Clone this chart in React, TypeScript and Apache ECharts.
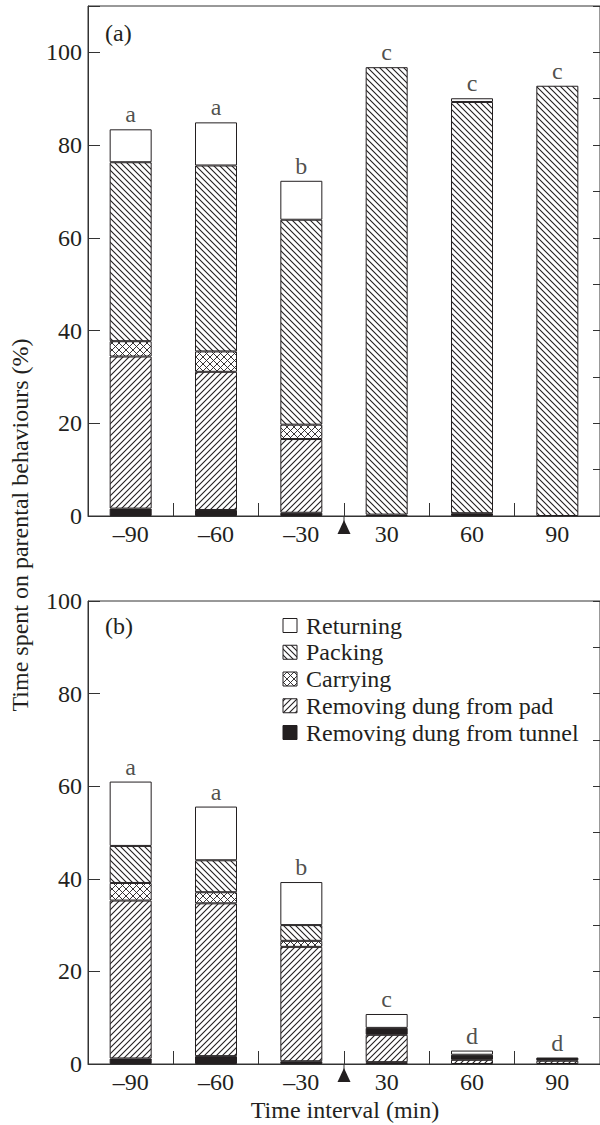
import React, { useEffect, useRef } from "react";
import * as echarts from "echarts";

const categories = ["–90", "–60", "–30", "30", "60", "90"];

// Panel (a)
const tunnelA = [1.6, 1.3, 0.7, 0.3, 0.6, 0];
const padA = [32.8, 29.8, 15.9, 0, 0, 0];
const carryA = [3.3, 4.4, 3.1, 0, 0, 0];
const packA = [38.6, 40.1, 44.2, 96.5, 88.7, 92.8];
const retA = [7.1, 9.3, 8.4, 0, 0.8, 0];
const lettersA = ["a", "a", "b", "c", "c", "c"];

// Panel (b)
const tunnelB = [1.2, 1.7, 0.6, 0.4, 0, 0];
const padB = [34.1, 33.0, 24.7, 5.9, 0.9, 0.7];
const tunnelUpperB = [0, 0, 0, 1.5, 1.1, 0.7];
const carryB = [3.8, 2.4, 1.3, 0, 0, 0];
const packB = [8.0, 6.9, 3.4, 0, 0, 0];
const retB = [13.9, 11.6, 9.3, 3.0, 0.9, 0];
const lettersB = ["a", "a", "b", "c", "d", "d"];

const yTicks = [0, 20, 40, 60, 80, 100];
const legendNames = [
  "Returning",
  "Packing",
  "Carrying",
  "Removing dung from pad",
  "Removing dung from tunnel",
];

const INK = "#231f20";
const FONT = "'Liberation Serif', 'Times New Roman', serif";

function makePattern(kind: string, s: number, lw: number) {
  const c = document.createElement("canvas");
  c.width = s;
  c.height = s;
  const ctx = c.getContext("2d") as CanvasRenderingContext2D;
  ctx.fillStyle = "#ffffff";
  ctx.fillRect(0, 0, s, s);
  ctx.strokeStyle = INK;
  ctx.lineWidth = lw;
  const fwd = () => {
    ctx.beginPath();
    ctx.moveTo(-1, s + 1);
    ctx.lineTo(s + 1, -1);
    ctx.moveTo(-1, 1);
    ctx.lineTo(1, -1);
    ctx.moveTo(s - 1, s + 1);
    ctx.lineTo(s + 1, s - 1);
    ctx.stroke();
  };
  const back = () => {
    ctx.beginPath();
    ctx.moveTo(-1, -1);
    ctx.lineTo(s + 1, s + 1);
    ctx.moveTo(s - 1, -1);
    ctx.lineTo(s + 1, 1);
    ctx.moveTo(-1, s - 1);
    ctx.lineTo(1, s + 1);
    ctx.stroke();
  };
  if (kind === "fwd") fwd();
  else if (kind === "back") back();
  else {
    fwd();
    back();
  }
  return { image: c, repeat: "repeat", imageWidth: s, imageHeight: s } as any;
}

const sumArrays = (...arrs: number[][]) =>
  arrs[0].map((_, i) => +arrs.reduce((acc, a) => acc + a[i], 0).toFixed(2));

export default function App() {
  const ref = useRef<HTMLDivElement>(null);

  useEffect(() => {
    if (!ref.current) return;
    const chart = echarts.init(ref.current, null, { renderer: "svg" });

    const fills: Record<string, any> = {
      ret: "#ffffff",
      pack: makePattern("back", 6, 1.1),
      carry: makePattern("cross", 7, 0.9),
      pad: makePattern("fwd", 6, 1.1),
      tunnel: INK,
    };

    const barSeries = (
      name: string,
      data: number[],
      fillKey: string,
      axis: number,
      stack: string
    ) => ({
      type: "bar",
      name,
      stack,
      xAxisIndex: axis,
      yAxisIndex: axis * 2,
      barWidth: 42,
      data: data.map((v) => (v === 0 ? "-" : v)),
      itemStyle: { color: fills[fillKey], borderColor: INK, borderWidth: 1 },
      emphasis: { disabled: true },
    });

    const letterSeries = (totals: number[], letters: string[], axis: number) => ({
      type: "scatter",
      xAxisIndex: axis,
      yAxisIndex: axis * 2,
      symbolSize: 0,
      data: totals,
      label: {
        show: true,
        position: "top",
        distance: 3,
        formatter: (p: any) => letters[p.dataIndex],
        fontFamily: FONT,
        fontSize: 24,
        color: INK,
      },
      z: 5,
    });

    const grids = [
      { left: 88, top: 6, width: 514, height: 510 },
      { left: 88, top: 601, width: 514, height: 463 },
    ];
    const maxes = [110, 100];

    const xAxes = [0, 1].map((g) => ({
      type: "category",
      gridIndex: g,
      data: categories,
      boundaryGap: true,
      axisLine: { show: true, lineStyle: { color: "#333", width: 1 } },
      axisTick: { show: true, inside: true, length: 13, lineStyle: { color: "#333" } },
      axisLabel: { fontFamily: FONT, fontSize: 24, color: INK, margin: 6 },
      splitLine: { show: false },
    }));

    const yAxes: any[] = [];
    [0, 1].forEach((g) => {
      yAxes.push({
        type: "value",
        gridIndex: g,
        min: 0,
        max: maxes[g],
        interval: 20,
        axisLine: { show: true, lineStyle: { color: "#333", width: 1 } },
        axisTick: { show: true, inside: true, length: 12, lineStyle: { color: "#333" } },
        axisLabel: {
          fontFamily: FONT,
          fontSize: 24,
          color: INK,
          margin: 6,
          formatter: (v: number) => (yTicks.indexOf(v) >= 0 ? String(v) : ""),
        },
        splitLine: { show: false },
      });
      yAxes.push({
        type: "value",
        gridIndex: g,
        min: 0,
        max: maxes[g],
        interval: 10,
        axisLine: { show: false },
        axisTick: { show: true, inside: true, length: 7, lineStyle: { color: "#333" } },
        axisLabel: { show: false },
        splitLine: { show: false },
      });
    });

    const totalsA = sumArrays(tunnelA, padA, carryA, packA, retA);
    const totalsB = sumArrays(tunnelB, padB, tunnelUpperB, carryB, packB, retB);

    const series: any[] = [
      barSeries(legendNames[4], tunnelA, "tunnel", 0, "A"),
      barSeries(legendNames[3], padA, "pad", 0, "A"),
      barSeries(legendNames[2], carryA, "carry", 0, "A"),
      barSeries(legendNames[1], packA, "pack", 0, "A"),
      barSeries(legendNames[0], retA, "ret", 0, "A"),
      letterSeries(totalsA, lettersA, 0),
      barSeries(legendNames[4], tunnelB, "tunnel", 1, "B"),
      barSeries(legendNames[3], padB, "pad", 1, "B"),
      barSeries(legendNames[4], tunnelUpperB, "tunnel", 1, "B"),
      barSeries(legendNames[2], carryB, "carry", 1, "B"),
      barSeries(legendNames[1], packB, "pack", 1, "B"),
      barSeries(legendNames[0], retB, "ret", 1, "B"),
      letterSeries(totalsB, lettersB, 1),
    ];

    chart.setOption({
      animation: false,
      grid: grids.map((g) => ({
        ...g,
        show: true,
        borderColor: "#333",
        borderWidth: 1,
        backgroundColor: "transparent",
      })),
      xAxis: xAxes,
      yAxis: yAxes,
      series,
    });

    const graphics: any[] = [];
    // Arrows between -30 and 30 (treatment time)
    [0, 1].forEach((g) => {
      const x1 = chart.convertToPixel({ xAxisIndex: g } as any, categories[2]) as number;
      const x2 = chart.convertToPixel({ xAxisIndex: g } as any, categories[3]) as number;
      const y0 = chart.convertToPixel({ yAxisIndex: g * 2 } as any, 0) as number;
      const x = (x1 + x2) / 2;
      graphics.push({
        type: "line",
        shape: { x1: x, y1: y0, x2: x, y2: y0 + 10 },
        style: { stroke: "#333", lineWidth: 1 },
      });
      graphics.push({
        type: "polygon",
        shape: {
          points: [
            [x, y0 + 4],
            [x - 6.5, y0 + 18],
            [x + 6.5, y0 + 18],
          ],
        },
        style: { fill: INK },
      });
    });

    // Panel letters
    graphics.push({
      type: "text",
      left: 105,
      top: 21,
      style: { text: "(a)", font: `24px ${FONT}`, fill: INK },
    });
    graphics.push({
      type: "text",
      left: 105,
      top: 614,
      style: { text: "(b)", font: `24px ${FONT}`, fill: INK },
    });

    // Y axis title
    graphics.push({
      type: "text",
      x: 20,
      y: 525,
      rotation: Math.PI / 2,
      style: {
        text: "Time spent on parental behaviours (%)",
        font: `24px ${FONT}`,
        fill: INK,
        align: "center",
        verticalAlign: "middle",
      },
    });

    // X axis title
    graphics.push({
      type: "text",
      x: 345,
      y: 1110,
      style: {
        text: "Time interval (min)",
        font: `24px ${FONT}`,
        fill: INK,
        align: "center",
        verticalAlign: "middle",
      },
    });

    // Legend
    const legendFills = [fills.ret, fills.pack, fills.carry, fills.pad, fills.tunnel];
    legendNames.forEach((name, i) => {
      const cy = 625.5 + i * 26.75;
      graphics.push({
        type: "rect",
        shape: { x: 283, y: cy - 7, width: 14, height: 14 },
        style: { fill: legendFills[i], stroke: INK, lineWidth: 1 },
      });
      graphics.push({
        type: "text",
        x: 306,
        y: cy,
        style: {
          text: name,
          font: `24px ${FONT}`,
          fill: INK,
          align: "left",
          verticalAlign: "middle",
        },
      });
    });

    chart.setOption({ graphic: { elements: graphics } });

    return () => chart.dispose();
  }, []);

  return (
    <div
      ref={ref}
      style={{ position: "absolute", left: 0, top: 0, width: 600, height: 1125 }}
    />
  );
}
